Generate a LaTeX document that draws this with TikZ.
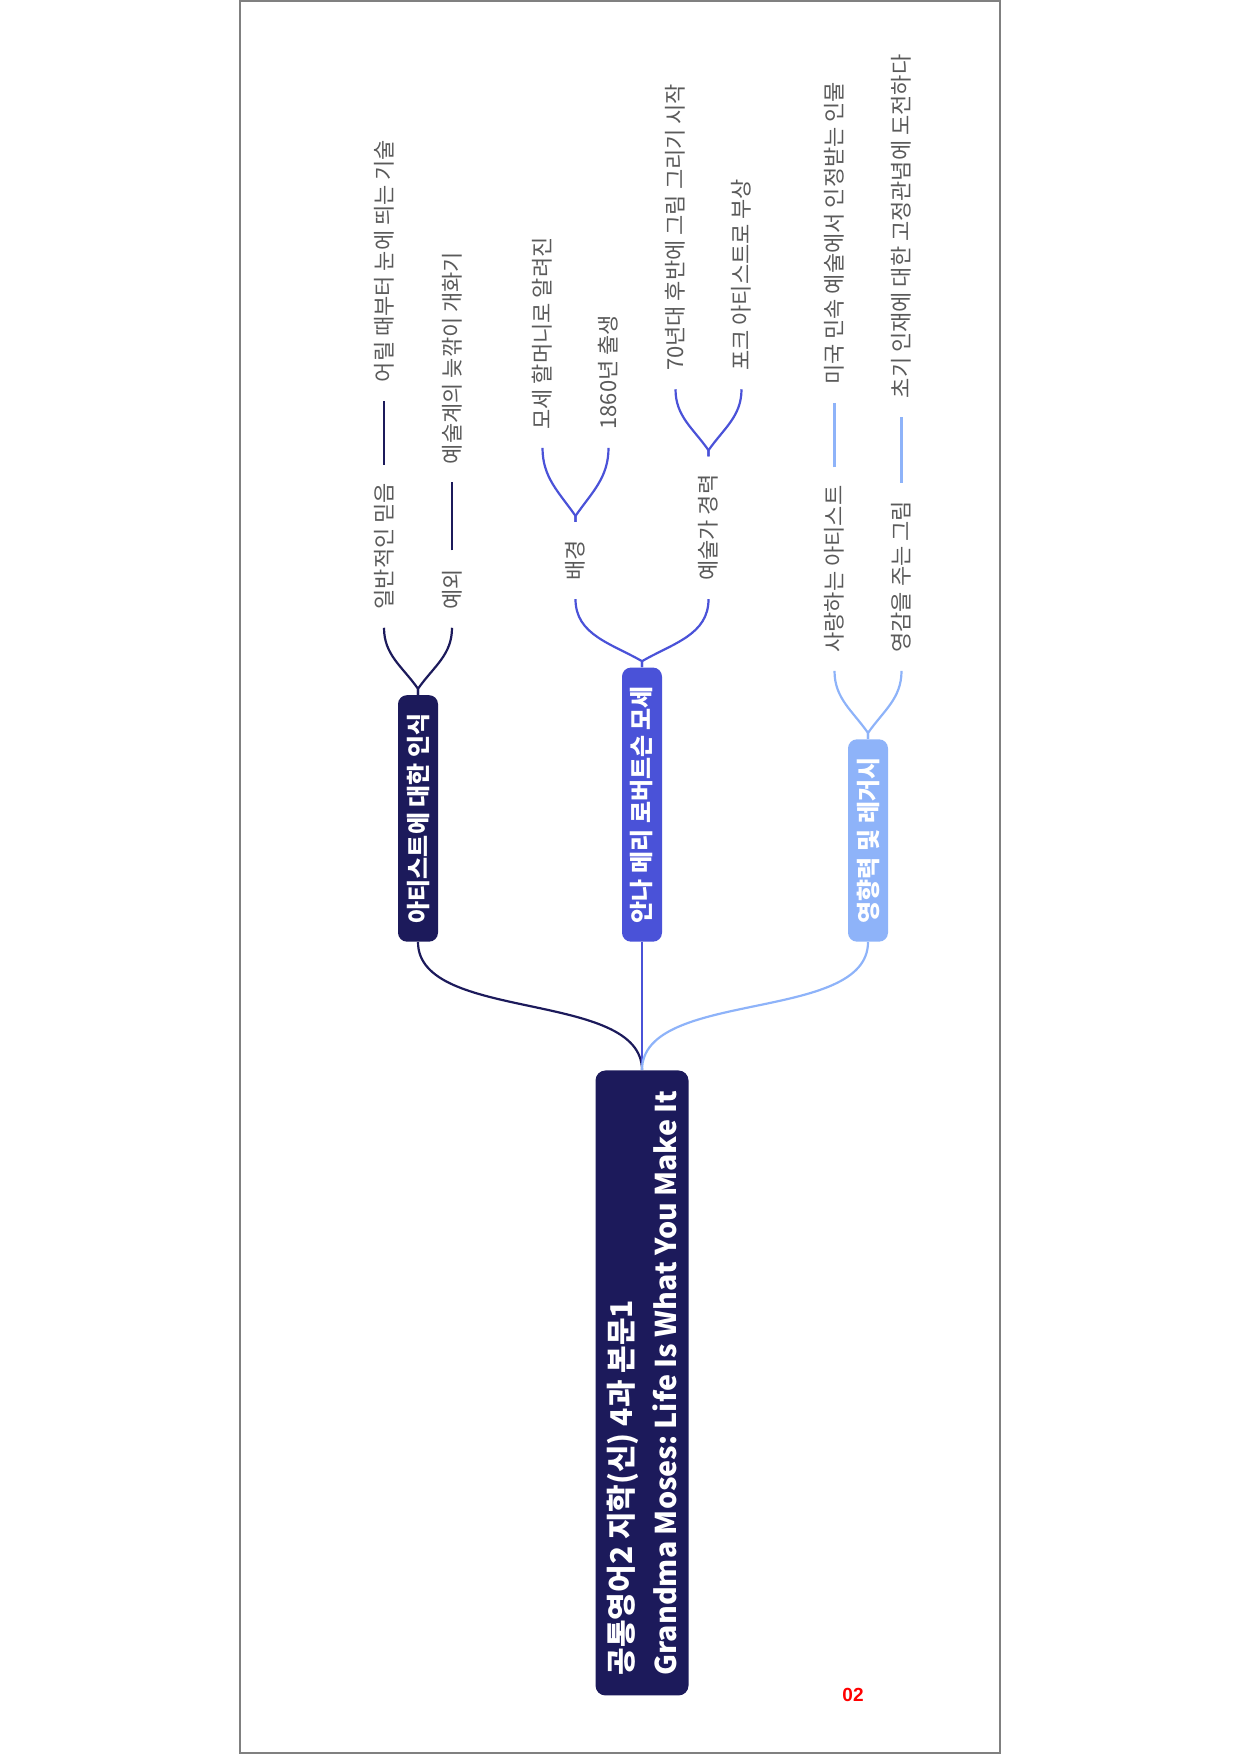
\documentclass[tikz,border=0pt]{standalone}
\usepackage{fontspec}
\usetikzlibrary{calc}
\newfontfamily\krfont{Noto Sans CJK KR}
\newfontfamily\pagefont{Liberation Sans}

\definecolor{rootnavy}{HTML}{1C1A5B}
\definecolor{royalblue}{HTML}{4A52D8}
\definecolor{skyblue}{HTML}{8EB3F9}
\definecolor{leafgray}{HTML}{5A5A5A}

\tikzset{
  topicbox/.style={rotate=90,anchor=west,rounded corners=4.5pt,
    text=white,font=\krfont\bfseries\fontsize{12}{14}\selectfont,
    minimum height=20pt,inner xsep=9.2pt},
  leaftext/.style={rotate=90,anchor=west,text=leafgray,
    font=\krfont\fontsize{11}{13}\selectfont,inner xsep=9pt,inner ysep=2pt},
  branchline/.style={line width=1.1pt},
}

\begin{document}
\frenchspacing
\begin{tikzpicture}[x=0.5pt,y=0.5pt]
  \useasboundingbox
    (0,0)
    rectangle
    (1240,1754);
  \draw[gray,line width=0.6pt]
    (240,1)
    rectangle
    (1000,1753);

  \node[rotate=90,fill=rootnavy,rounded corners=5pt,text=white,
    font=\krfont\bfseries\fontsize{15}{22}\selectfont,align=left,
    minimum width=312.5pt,minimum height=46.5pt]
    (root) at (642,371)
    {공통영어2 지학(신) 4과 본문1\\{\fontsize{14.3}{22}\selectfont Grandma Moses: Life Is What You Make It}};

  \node[topicbox,fill=rootnavy] (artist) at ($(root.east)+(-224,128)$) {아티스트에 대한 인식};
  \node[topicbox,fill=royalblue] (moses) at ($(root.east)+(0,128)$) {안나 메리 로버트슨 모세};
  \node[topicbox,fill=skyblue] (legacy) at ($(root.east)+(226,128)$) {영향력 및 레거시};

  \node[leaftext] (belief) at ($(artist.east)+(-34,67)$) {일반적인 믿음};
  \node[leaftext] (except) at ($(artist.east)+(34,67)$) {예외};
  \node[leaftext] (skill) at ($(belief.east)+(0,64)$) {어릴 때부터 눈에 띄는 기술};
  \node[leaftext] (bloomer) at ($(except.east)+(0,68)$) {예술계의 늦깎이 개화기};

  \node[leaftext] (backgr) at ($(moses.east)+(-66.5,68)$) {배경};
  \node[leaftext] (career) at ($(moses.east)+(66.5,68)$) {예술가 경력};
  \node[leaftext] (grandma) at ($(backgr.east)+(-33,74)$) {모세 할머니로 알려진};
  \node[leaftext] (born) at ($(backgr.east)+(33,74)$) {1860년 출생};
  \node[leaftext] (started) at ($(career.east)+(-33,67)$) {70년대 후반에 그림 그리기 시작};
  \node[leaftext] (folk) at ($(career.east)+(33,67)$) {포크 아티스트로 부상};

  \node[leaftext] (beloved) at ($(legacy.east)+(-33.5,68)$) {사랑하는 아티스트};
  \node[leaftext] (inspire) at ($(legacy.east)+(33.5,68)$) {영감을 주는 그림};
  \node[leaftext] (figure) at ($(beloved.east)+(0,64)$) {미국 민속 예술에서 인정받는 인물};
  \node[leaftext] (challenge) at ($(inspire.east)+(0,66)$) {초기 인재에 대한 고정관념에 도전하다};

  \node[font=\pagefont\bfseries\fontsize{9.5}{11}\selectfont,text=red]
    (pagenum) at (853,59) {02};

  \draw[branchline,rootnavy]
    (root.east)
    to[out=90,in=-90,looseness=0.8]
    (artist.west);
  \draw[branchline,royalblue]
    (root.east)
    --
    (moses.west);
  \draw[branchline,skyblue]
    (root.east)
    to[out=90,in=-90,looseness=0.8]
    (legacy.west);

  \draw[branchline,rootnavy]
    (artist.east) -- ++(0,6)
    to[out=125,in=-90]
    (belief.west);
  \draw[branchline,rootnavy]
    (artist.east) -- ++(0,6)
    to[out=55,in=-90]
    (except.west);
  \draw[branchline,rootnavy]
    (belief.east)
    --
    (skill.west);
  \draw[branchline,rootnavy]
    (except.east)
    --
    (bloomer.west);

  \draw[branchline,royalblue]
    (moses.east) -- ++(0,6)
    to[out=150,in=-90]
    (backgr.west);
  \draw[branchline,royalblue]
    (moses.east) -- ++(0,6)
    to[out=30,in=-90]
    (career.west);
  \draw[branchline,royalblue]
    (backgr.east) -- ++(0,6)
    to[out=125,in=-90]
    (grandma.west);
  \draw[branchline,royalblue]
    (backgr.east) -- ++(0,6)
    to[out=55,in=-90]
    (born.west);
  \draw[branchline,royalblue]
    (career.east) -- ++(0,6)
    to[out=125,in=-90]
    (started.west);
  \draw[branchline,royalblue]
    (career.east) -- ++(0,6)
    to[out=55,in=-90]
    (folk.west);

  \draw[branchline,skyblue]
    (legacy.east) -- ++(0,6)
    to[out=125,in=-90]
    (beloved.west);
  \draw[branchline,skyblue]
    (legacy.east) -- ++(0,6)
    to[out=55,in=-90]
    (inspire.west);
  \draw[branchline,skyblue]
    (beloved.east)
    --
    (figure.west);
  \draw[branchline,skyblue]
    (inspire.east)
    --
    (challenge.west);
\end{tikzpicture}
\end{document}
